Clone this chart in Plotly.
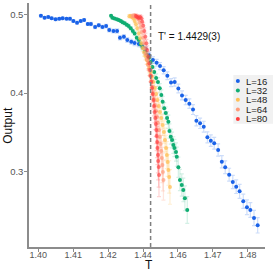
import plotly.graph_objects as go

# ---------------- data ----------------
T_CRIT = 1.4429
crit_label = "T' = 1.4429(3)"

x_ticks = [1.40, 1.41333, 1.42667, 1.44, 1.45333, 1.46667, 1.48]
x_tick_text = ["1.40", "1.41", "1.42", "1.44", "1.46", "1.47", "1.48"]
y_ticks = [0.3, 0.4, 0.5]
y_tick_text = ["0.3", "0.4", "0.5"]

labels = ["L=16", "L=32", "L=48", "L=64", "L=80"]

T16 = [1.4010, 1.4024, 1.4038, 1.4051, 1.4066, 1.4080, 1.4093, 1.4108, 1.4121, 1.4134,
       1.4148, 1.4162, 1.4175, 1.4189, 1.4201, 1.4217, 1.4231, 1.4245, 1.4259, 1.4271,
       1.4287, 1.4301, 1.4312, 1.4327, 1.4340, 1.4355, 1.4368, 1.4384, 1.4397, 1.4410,
       1.4424, 1.4438, 1.4452, 1.4465, 1.4479, 1.4493, 1.4507, 1.4521, 1.4535, 1.4549,
       1.4563, 1.4577, 1.4591, 1.4604, 1.4618, 1.4632, 1.4646, 1.4659, 1.4672, 1.4687,
       1.4701, 1.4714, 1.4729, 1.4743, 1.4756, 1.4769, 1.4783, 1.4797, 1.4810, 1.4824,
       1.4838]
Y16 = [0.4982, 0.4957, 0.4966, 0.4949, 0.4936, 0.4944, 0.4949, 0.4944, 0.4944, 0.4915,
       0.4893, 0.4915, 0.4928, 0.4877, 0.4877, 0.4839, 0.4860, 0.4839, 0.4851, 0.4800,
       0.4788, 0.4788, 0.4703, 0.4715, 0.4673, 0.4652, 0.4635, 0.4623, 0.4597, 0.4559,
       0.4480, 0.4420, 0.4385, 0.4343, 0.4290, 0.4220, 0.4133, 0.4140, 0.4058, 0.3970,
       0.3910, 0.3865, 0.3790, 0.3648, 0.3615, 0.3572, 0.3437, 0.3394, 0.3361, 0.3276,
       0.3127, 0.3056, 0.2962, 0.2869, 0.2809, 0.2751, 0.2624, 0.2548, 0.2513, 0.2412,
       0.2319]
E16 = [0.0014, 0.0015, 0.0014, 0.0015, 0.0016, 0.0015, 0.0016, 0.0016, 0.0017, 0.0017,
       0.0018, 0.0018, 0.0019, 0.0019, 0.0020, 0.0021, 0.0021, 0.0022, 0.0023, 0.0024,
       0.0025, 0.0026, 0.0028, 0.0028, 0.0030, 0.0031, 0.0032, 0.0034, 0.0035, 0.0037,
       0.0039, 0.0041, 0.0043, 0.0045, 0.0046, 0.0049, 0.0051, 0.0052, 0.0055, 0.0056,
       0.0059, 0.0060, 0.0063, 0.0065, 0.0066, 0.0069, 0.0070, 0.0073, 0.0074, 0.0077,
       0.0078, 0.0081, 0.0082, 0.0085, 0.0086, 0.0089, 0.0090, 0.0093, 0.0094, 0.0097,
       0.0098]

T32 = [1.4278, 1.4283, 1.4291, 1.4300, 1.4307, 1.4315, 1.4322, 1.4330, 1.4338, 1.4345,
       1.4353, 1.4361, 1.4368, 1.4376, 1.4384, 1.4391, 1.4399, 1.4407, 1.4414, 1.4422,
       1.4429, 1.4436, 1.4443, 1.4450, 1.4457, 1.4464, 1.4470, 1.4475, 1.4481, 1.4487,
       1.4492, 1.4497, 1.4501, 1.4506, 1.4511, 1.4516, 1.4520, 1.4526, 1.4529, 1.4535,
       1.4541, 1.4548, 1.4554, 1.4560, 1.4569]
Y32 = [0.4982, 0.4957, 0.4947, 0.4936, 0.4928, 0.4915, 0.4898, 0.4886, 0.4869, 0.4851,
       0.4822, 0.4788, 0.4756, 0.4703, 0.4673, 0.4619, 0.4578, 0.4525, 0.4483, 0.4445,
       0.4394, 0.4330, 0.4267, 0.4191, 0.4140, 0.4060, 0.3975, 0.3890, 0.3806, 0.3746,
       0.3682, 0.3635, 0.3517, 0.3445, 0.3403, 0.3339, 0.3301, 0.3250, 0.3191, 0.3056,
       0.2895, 0.2831, 0.2768, 0.2662, 0.2513]
E32 = [0.0015, 0.0016, 0.0016, 0.0017, 0.0017, 0.0018, 0.0019, 0.0020, 0.0021, 0.0022,
       0.0023, 0.0025, 0.0026, 0.0028, 0.0030, 0.0032, 0.0034, 0.0036, 0.0039, 0.0041,
       0.0044, 0.0047, 0.0050, 0.0053, 0.0056, 0.0060, 0.0064, 0.0068, 0.0072, 0.0076,
       0.0080, 0.0085, 0.0090, 0.0095, 0.0100, 0.0105, 0.0110, 0.0116, 0.0122, 0.0128,
       0.0135, 0.0142, 0.0150, 0.0158, 0.0170]

T48 = [1.4348, 1.4353, 1.4358, 1.4363, 1.4368, 1.4373, 1.4378, 1.4384, 1.4389, 1.4394,
       1.4399, 1.4404, 1.4409, 1.4414, 1.4419, 1.4424, 1.4429, 1.4434, 1.4439, 1.4445,
       1.4450, 1.4455, 1.4460, 1.4465, 1.4470, 1.4475, 1.4480, 1.4484, 1.4488, 1.4491,
       1.4494, 1.4497, 1.4500, 1.4503]
Y48 = [0.4975, 0.4978, 0.4966, 0.4949, 0.4915, 0.4873, 0.4822, 0.4759, 0.4695, 0.4632,
       0.4568, 0.4515, 0.4470, 0.4419, 0.4369, 0.4318, 0.4267, 0.4203, 0.4140, 0.4064,
       0.3987, 0.3911, 0.3835, 0.3759, 0.3682, 0.3593, 0.3504, 0.3403, 0.3301, 0.3212,
       0.3123, 0.3022, 0.2933, 0.2806]
E48 = [0.0020, 0.0021, 0.0022, 0.0024, 0.0026, 0.0028, 0.0030, 0.0033, 0.0036, 0.0039,
       0.0042, 0.0046, 0.0050, 0.0054, 0.0058, 0.0063, 0.0068, 0.0074, 0.0080, 0.0086,
       0.0093, 0.0100, 0.0108, 0.0116, 0.0124, 0.0133, 0.0142, 0.0152, 0.0162, 0.0172,
       0.0183, 0.0194, 0.0206, 0.0220]

T64 = [1.4360, 1.4366, 1.4371, 1.4377, 1.4382, 1.4387, 1.4391, 1.4395, 1.4400, 1.4404,
       1.4408, 1.4411, 1.4415, 1.4419, 1.4423, 1.4427, 1.4431, 1.4434, 1.4438, 1.4442,
       1.4446, 1.4450, 1.4454, 1.4457, 1.4461, 1.4464, 1.4467, 1.4470, 1.4472, 1.4474,
       1.4476, 1.4478]
Y64 = [0.4978, 0.4985, 0.4978, 0.4966, 0.4940, 0.4896, 0.4839, 0.4775, 0.4705, 0.4635,
       0.4565, 0.4496, 0.4426, 0.4356, 0.4292, 0.4222, 0.4153, 0.4076, 0.4000, 0.3924,
       0.3848, 0.3771, 0.3695, 0.3619, 0.3530, 0.3441, 0.3352, 0.3263, 0.3174, 0.3085,
       0.2996, 0.2895]
E64 = [0.0022, 0.0023, 0.0024, 0.0026, 0.0028, 0.0031, 0.0034, 0.0037, 0.0041, 0.0045,
       0.0049, 0.0054, 0.0059, 0.0065, 0.0071, 0.0078, 0.0085, 0.0093, 0.0101, 0.0110,
       0.0119, 0.0129, 0.0139, 0.0150, 0.0161, 0.0173, 0.0185, 0.0198, 0.0211, 0.0225,
       0.0240, 0.0255]

T80 = [1.4373, 1.4378, 1.4384, 1.4389, 1.4394, 1.4397, 1.4401, 1.4405, 1.4409, 1.4413,
       1.4416, 1.4420, 1.4424, 1.4427, 1.4430, 1.4432, 1.4435, 1.4437, 1.4440, 1.4442,
       1.4444, 1.4447, 1.4449, 1.4451, 1.4452, 1.4454, 1.4455, 1.4457, 1.4458, 1.4460,
       1.4461]
Y80 = [0.4978, 0.4966, 0.4957, 0.4966, 0.4949, 0.4906, 0.4855, 0.4788, 0.4715, 0.4632,
       0.4546, 0.4461, 0.4377, 0.4292, 0.4216, 0.4140, 0.4064, 0.3987, 0.3911, 0.3835,
       0.3759, 0.3682, 0.3606, 0.3530, 0.3454, 0.3378, 0.3301, 0.3212, 0.3136, 0.3059,
       0.2958]
E80 = [0.0024, 0.0025, 0.0027, 0.0029, 0.0031, 0.0034, 0.0037, 0.0041, 0.0045, 0.0050,
       0.0055, 0.0061, 0.0067, 0.0074, 0.0081, 0.0089, 0.0097, 0.0106, 0.0116, 0.0126,
       0.0137, 0.0148, 0.0160, 0.0172, 0.0185, 0.0198, 0.0212, 0.0226, 0.0241, 0.0256,
       0.0275]

series = [(T16, Y16, E16), (T32, Y32, E32), (T48, Y48, E48), (T64, Y64, E64), (T80, Y80, E80)]

# ---------------- style ----------------
colors = ["#1a62e8", "#10ad72", "#ffbf55", "#ff9b7a", "#ff3d3d"]
bar_colors = ["rgba(26,98,232,0.22)", "rgba(16,173,114,0.18)", "rgba(255,191,85,0.25)",
              "rgba(255,155,122,0.25)", "rgba(255,61,61,0.22)"]
marker_opacity = [1.0, 1.0, 0.75, 0.7, 0.65]
FONT = "Liberation Sans, Arial, sans-serif"

fig = go.Figure()
for i, (xs, ys, es) in enumerate(series):
    fig.add_trace(go.Scatter(
        x=xs, y=ys, mode="markers", name=labels[i], showlegend=False,
        marker=dict(color=colors[i], size=4, opacity=marker_opacity[i], line=dict(width=0)),
        error_y=dict(type="data", array=es, visible=True, color=bar_colors[i],
                     thickness=1.2, width=2),
    ))

# custom compact legend (markers on an overlay axis)
leg_x0, leg_x1 = 0.866, 1.04
leg_y0, leg_y1 = 0.505, 0.705
leg_rows = [0.680, 0.641, 0.603, 0.564, 0.525]
fig.add_shape(type="rect", xref="paper", yref="paper", x0=leg_x0, x1=leg_x1,
              y0=leg_y0, y1=leg_y1, fillcolor="#f1f1f1", line=dict(width=0), layer="below")
fig.add_trace(go.Scatter(
    x=[0.885] * len(labels), y=leg_rows, xaxis="x2", yaxis="y2", mode="markers",
    marker=dict(color=colors, size=4), showlegend=False, hoverinfo="skip"))
for lab, yy in zip(labels, leg_rows):
    fig.add_annotation(x=0.912, y=yy, xref="paper", yref="paper", text=lab,
                       showarrow=False, xanchor="left", yanchor="middle",
                       font=dict(family=FONT, size=9.5, color="#222"))

# critical temperature line + label
fig.add_shape(type="line", xref="x", yref="paper", x0=T_CRIT, x1=T_CRIT, y0=0, y1=1,
              line=dict(color="#7f7f7f", width=1.5, dash="4px,3px"))
fig.add_annotation(x=1.4450, y=0.4724, xref="x", yref="y", text=crit_label,
                   showarrow=False, xanchor="left", yanchor="middle",
                   font=dict(family=FONT, size=10, color="#111"))

# axis titles
fig.add_annotation(x=0.508, y=-0.072, xref="paper", yref="paper", text="T",
                   showarrow=False, xanchor="center", yanchor="middle",
                   font=dict(family=FONT, size=12, color="#111"))
fig.add_annotation(x=-0.09, y=0.5, xref="paper", yref="paper", text="Output",
                   textangle=-90, showarrow=False, xanchor="center", yanchor="middle",
                   font=dict(family=FONT, size=12, color="#111"))

fig.update_layout(
    width=273, height=273,
    margin=dict(l=29, r=8, t=3, b=26),
    paper_bgcolor="white", plot_bgcolor="white",
    font=dict(family=FONT, size=10, color="#4d4d4d"),
    xaxis=dict(range=[1.39645, 1.4866], tickvals=x_ticks, ticktext=x_tick_text,
               showgrid=False, zeroline=False, showline=True, linecolor="#8c8c8c",
               linewidth=1.5, ticks="outside", ticklen=3, tickcolor="#8c8c8c",
               tickfont=dict(size=9, color="#555"), automargin=False,
               ticklabelstandoff=-5),
    yaxis=dict(range=[0.2043, 0.5144], tickvals=y_ticks, ticktext=y_tick_text,
               showgrid=False, zeroline=False, showline=True, linecolor="#8c8c8c",
               linewidth=1.5, ticks="outside", ticklen=3, tickcolor="#8c8c8c",
               tickfont=dict(size=9.5, color="#555"), automargin=False,
               ticklabelstandoff=-1),
    xaxis2=dict(range=[0, 1], overlaying="x", visible=False, fixedrange=True),
    yaxis2=dict(range=[0, 1], overlaying="y", visible=False, fixedrange=True),
    showlegend=False,
)

fig.write_html("out.html", config={"displayModeBar": False},
               post_script="document.body.style.margin='0';document.body.style.padding='0';")
